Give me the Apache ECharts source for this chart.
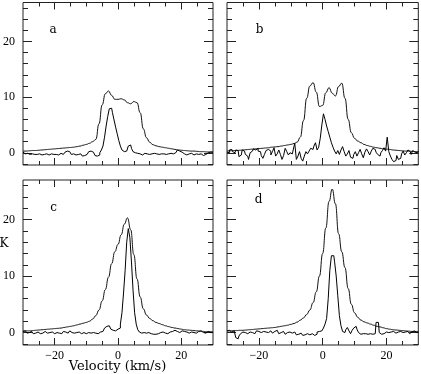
<!DOCTYPE html>
<html>
<head>
<meta charset="utf-8">
<script src="https://cdn.jsdelivr.net/npm/echarts@6/dist/echarts.min.js"></script>
<style>html,body{margin:0;padding:0;background:#fff}#c{width:421px;height:374px}</style>
</head>
<body>
<div id="c"></div>
<script>
// Smooth spectra: one value per 1 km/s from -30 to 30
const SMOOTH_V0 = -30, SMOOTH_DV = 1;
// Histogram spectra: one channel per 0.5 km/s from -30 to 30
const HIST_V0 = -30, HIST_DV = 0.5;

const panelLabels = ['a', 'b', 'c', 'd'];
const yTickLabels = [0, 10, 20];
const xTickLabels = [-20, 0, 20];

const smoothA = [0.3,0.3,0.35,0.4,0.4,0.45,0.5,0.55,0.6,0.65,0.7,0.75,0.8,0.85,0.9,0.95,1.0,1.1,1.2,1.35,1.5,1.7,2.0,2.4,5.2,8.6,10.6,11.1,10.3,9.6,9.6,9.7,9.5,9.0,8.8,9.2,9.0,7.2,4.3,2.7,1.9,1.45,1.25,1.1,1.0,0.9,0.8,0.7,0.6,0.5,0.45,0.4,0.35,0.3,0.3,0.25,0.2,0.2,0.15,0.15,0.15];
const histA = [0.1,-0.2,-0.3,-0.1,-0.3,-0.4,-0.2,-0.3,-0.5,-0.3,-0.2,-0.3,-0.4,-0.3,-0.1,-0.2,-0.4,-0.3,-0.2,-0.3,-0.2,
  -0.3,-0.4,-0.2,-0.1,-0.3,-0.2,0.1,0.3,0.2,-0.1,-0.3,-0.2,-0.4,-0.5,-0.3,-0.2,-0.4,-0.6,-0.5,-0.3,
  -0.1,0.2,0.3,0.1,-0.2,-0.5,-0.6,-0.4,0.0,0.5,
  1.2,2.8,4.8,6.5,7.9,8.0,7.2,5.9,4.6,3.4,
  2.2,1.2,0.5,0.2,0.3,0.6,1.2,1.4,0.8,0.2,
  0.0,-0.1,-0.3,-0.2,-0.4,-0.3,-0.1,-0.2,-0.4,-0.3,
  -0.2,-0.3,-0.1,-0.2,-0.4,-0.3,-0.2,0.0,-0.2,-0.3,-0.4,-0.2,-0.1,-0.3,-0.2,0.0,0.3,0.5,0.3,0.1,
  -0.1,-0.2,-0.4,-0.3,-0.2,-0.1,-0.3,-0.4,-0.2,-0.5,-0.3,-0.2,-0.4,-0.5,-0.3,-0.1,0.0,0.1,0.0,0.1];

const smoothB = [0.3,0.35,0.4,0.4,0.45,0.5,0.55,0.6,0.65,0.7,0.75,0.8,0.85,0.9,1.0,1.05,1.1,1.2,1.3,1.4,1.5,1.65,1.9,2.8,5.8,9.8,12.0,12.6,10.9,8.3,8.5,10.8,11.7,10.7,10.2,11.9,12.5,9.8,6.0,3.6,2.6,2.1,1.8,1.5,1.3,1.15,1.0,0.9,0.8,0.7,0.65,0.6,0.5,0.45,0.4,0.35,0.3,0.3,0.25,0.2,0.2];
const histB = [0.1,0.0,0.5,0.6,0.2,0.0,0.5,0.4,-0.7,-0.4,0.5,0.3,-0.3,-0.6,-1.2,0.0,0.3,0.7,0.5,0.8,0.3,
  0.2,-0.5,-1.0,-0.3,0.4,0.6,0.3,-0.4,0.2,0.9,-0.6,-0.2,0.5,-0.3,-1.2,-0.5,0.8,0.2,-0.4,0.0,
  -0.2,0.5,1.7,-1.2,-0.6,0.2,-1.0,-1.5,-0.6,0.2,
  -0.2,0.3,0.8,0.6,1.2,1.8,0.5,1.0,2.6,5.0,
  7.0,6.0,4.8,3.8,2.8,1.8,1.0,0.3,-0.2,0.4,
  -0.3,0.5,1.1,0.2,-0.6,-0.2,0.4,-0.8,-1.0,-0.3,
  0.2,-0.6,0.0,0.6,-0.2,-0.9,0.1,0.7,0.2,-0.4,0.3,0.8,0.6,0.1,-0.3,-0.6,0.0,0.4,0.9,0.3,
  2.8,0.2,-0.6,-1.2,-1.6,-1.4,-0.5,-1.2,-1.0,-0.2,0.3,-0.4,0.0,0.5,0.2,-0.3,0.4,0.1,0.0,0.3];

const smoothC = [0.25,0.3,0.3,0.35,0.4,0.45,0.5,0.55,0.6,0.65,0.7,0.75,0.8,0.9,1.0,1.1,1.2,1.35,1.5,1.65,1.8,2.0,2.4,3.0,4.0,5.6,7.6,9.8,12.2,14.3,15.6,17.3,19.2,20.3,18.2,13.8,9.5,6.3,4.2,3.1,2.5,2.1,1.8,1.6,1.4,1.2,1.05,0.9,0.8,0.7,0.6,0.5,0.45,0.4,0.35,0.3,0.25,0.2,0.15,0.15,0.1];
const histC = [0.2,0.3,0.1,-0.1,0.0,0.2,0.1,-0.2,-0.1,0.1,0.0,-0.2,-0.1,0.1,0.2,-0.1,-0.3,0.0,0.1,-0.1,-0.2,
  0.0,0.1,-0.1,-0.2,0.0,0.2,0.1,-0.1,0.1,0.3,0.0,-0.1,-0.2,0.0,0.1,-0.1,-0.2,0.0,-0.1,-0.2,
  0.0,0.1,-0.1,0.0,0.2,-0.1,-0.2,0.0,0.1,0.2,
  0.4,0.8,1.1,1.2,0.9,0.6,0.4,0.3,0.4,0.6,
  0.8,1.5,3.5,7.0,11.0,16.0,18.4,16.8,12.5,7.5,
  3.5,1.5,0.5,0.1,-0.1,0.0,-0.2,-0.1,0.0,-0.1,
  -0.2,-0.3,-0.4,-0.3,-0.2,-0.1,0.0,0.1,0.0,-0.1,-0.2,0.0,0.1,0.2,0.3,0.4,0.2,0.1,0.0,0.3,
  0.4,0.2,0.1,0.0,-0.1,0.1,0.2,0.0,-0.1,0.1,0.2,0.3,0.1,0.0,-0.1,0.1,0.2,0.0,0.1,0.0];

const smoothD = [0.3,0.3,0.35,0.35,0.4,0.4,0.45,0.5,0.55,0.6,0.65,0.7,0.75,0.8,0.85,0.9,1.0,1.1,1.2,1.3,1.45,1.6,1.85,2.2,2.6,3.2,4.0,5.3,7.2,10.0,14.0,18.5,23.2,25.4,22.8,17.5,14.3,11.5,7.8,5.0,3.5,2.7,2.2,1.9,1.7,1.5,1.3,1.1,1.0,0.85,0.7,0.6,0.5,0.45,0.4,0.35,0.3,0.25,0.2,0.2,0.2];
const histD = [0.3,0.4,0.2,0.1,0.3,0.2,-0.9,-1.1,-0.6,-0.2,0.1,0.0,-0.3,-0.2,0.1,0.2,0.0,-0.2,0.1,0.3,0.2,
  0.0,-0.1,0.2,0.1,-0.2,0.0,0.3,0.1,-0.1,0.2,0.4,0.1,-0.2,0.0,0.2,-0.1,-0.3,0.0,0.1,-0.2,
  -0.1,0.1,-0.2,-0.4,-0.3,-0.1,-0.3,-0.5,-0.4,-0.2,
  -0.3,-0.4,-0.2,-0.3,-0.5,-0.3,0.1,0.2,0.3,0.5,
  0.8,1.5,2.5,6.0,11.0,13.6,13.6,12.5,10.0,6.5,
  3.0,1.2,0.2,0.0,0.5,0.9,0.3,-0.2,0.4,0.8,
  1.1,0.6,0.0,-0.3,-0.2,0.0,-0.2,-0.3,-0.1,-0.2,-0.3,0.0,-0.2,1.8,1.8,0.0,-0.3,-0.2,0.0,0.1,
  0.0,-0.2,0.1,0.2,0.0,-0.1,0.1,0.3,0.2,0.0,-0.1,0.1,0.2,0.0,-0.2,0.1,0.3,0.2,0.0,0.1];

const smoothSets = [smoothA, smoothB, smoothC, smoothD];
const histSets = [histA, histB, histC, histD];

const X_MIN = -30, X_MAX = 30, Y_MIN = -2.2, Y_MAX = 27;
const xMinorTicks = [-25,-20,-15,-10,-5,0,5,10,15,20,25];
const yMinorTicks = [-2,0,2,4,6,8,10,12,14,16,18,20,22,24,26];

const grids = [
  {left: 22, top: 2.5, width: 191, height: 162.5},
  {left: 227, top: 2.5, width: 191.3, height: 162.5},
  {left: 22, top: 180, width: 191, height: 165},
  {left: 227, top: 180, width: 191.3, height: 165}
];
const labelPos = [[53, 29.5], [259.5, 29.5], [53.5, 208], [258.5, 200]];

const FRAME = '#222';
const numFmt = v => (v < 0 ? '\u2212' + Math.abs(v) : String(v));

const xAxes = [], yAxes = [], series = [];
grids.forEach((g, gi) => {
  const bottomRow = gi >= 2, leftCol = gi % 2 === 0;
  const base = {type: 'value', gridIndex: gi, min: X_MIN, max: X_MAX,
    axisLine: {show: false, onZero: false}, splitLine: {show: false}};
  const mk = (pos, vals, len, labels) => Object.assign({}, base, {
    position: pos,
    axisTick: {show: true, inside: true, length: len, customValues: vals, lineStyle: {color: FRAME, width: 1}},
    axisLabel: labels ? {show: true, customValues: xTickLabels, formatter: numFmt, margin: 5,
      fontFamily: 'Liberation Serif', fontSize: 12, color: '#000'} : {show: false}
  });
  xAxes.push(mk('bottom', xMinorTicks, 4, false));
  xAxes.push(mk('bottom', xTickLabels, 7, bottomRow));
  xAxes.push(mk('top', xMinorTicks, 4, false));
  xAxes.push(mk('top', xTickLabels, 7, false));

  const ybase = {type: 'value', gridIndex: gi, min: Y_MIN, max: Y_MAX,
    axisLine: {show: false, onZero: false}, splitLine: {show: false}};
  const mky = (pos, vals, len, labels) => Object.assign({}, ybase, {
    position: pos,
    axisTick: {show: true, inside: true, length: len, customValues: vals, lineStyle: {color: FRAME, width: 1}},
    axisLabel: labels ? {show: true, customValues: yTickLabels, formatter: numFmt, margin: 8,
      fontFamily: 'Liberation Serif', fontSize: 12, color: '#000'} : {show: false}
  });
  yAxes.push(mky('left', yMinorTicks, 5, false));
  yAxes.push(mky('left', yTickLabels, 9, leftCol));
  yAxes.push(mky('right', yMinorTicks, 5, false));
  yAxes.push(mky('right', yTickLabels, 9, false));

  series.push({
    type: 'line', xAxisIndex: gi * 4 + 1, yAxisIndex: gi * 4 + 1,
    data: smoothSets[gi].map((k, i) => [SMOOTH_V0 + i * SMOOTH_DV, k]),
    smooth: 0.5, smoothMonotone: 'x', showSymbol: false, silent: true,
    lineStyle: {color: '#111', width: 1}, z: 3
  });
  series.push({
    type: 'line', xAxisIndex: gi * 4 + 1, yAxisIndex: gi * 4 + 1,
    data: histSets[gi].map((k, i) => [HIST_V0 + i * HIST_DV, k]),
    step: 'middle', showSymbol: false, silent: true,
    lineStyle: {color: '#000', width: 1}, z: 4
  });
});

const graphic = panelLabels.map((t, i) => ({
  type: 'text', x: labelPos[i][0], y: labelPos[i][1],
  style: {text: t, fontFamily: 'DejaVu Serif', fontSize: 12, fill: '#000', align: 'center', verticalAlign: 'middle'}
}));
graphic.push({type: 'text', x: 4, y: 244,
  style: {text: 'K', fontFamily: 'DejaVu Serif', fontSize: 12, fill: '#000', align: 'center', verticalAlign: 'middle'}});
graphic.push({type: 'text', x: 117.5, y: 367,
  style: {text: 'Velocity (km/s)', fontFamily: 'DejaVu Serif', fontSize: 13, fill: '#000', align: 'center', verticalAlign: 'middle'}});

const chart = echarts.init(document.getElementById('c'), null, {renderer: 'canvas'});
chart.setOption({
  animation: false,
  backgroundColor: '#fff',
  grid: grids.map(g => Object.assign({show: true, borderColor: FRAME, borderWidth: 1, backgroundColor: 'transparent'}, g)),
  xAxis: xAxes,
  yAxis: yAxes,
  series: series,
  graphic: graphic
});
</script>
</body>
</html>
